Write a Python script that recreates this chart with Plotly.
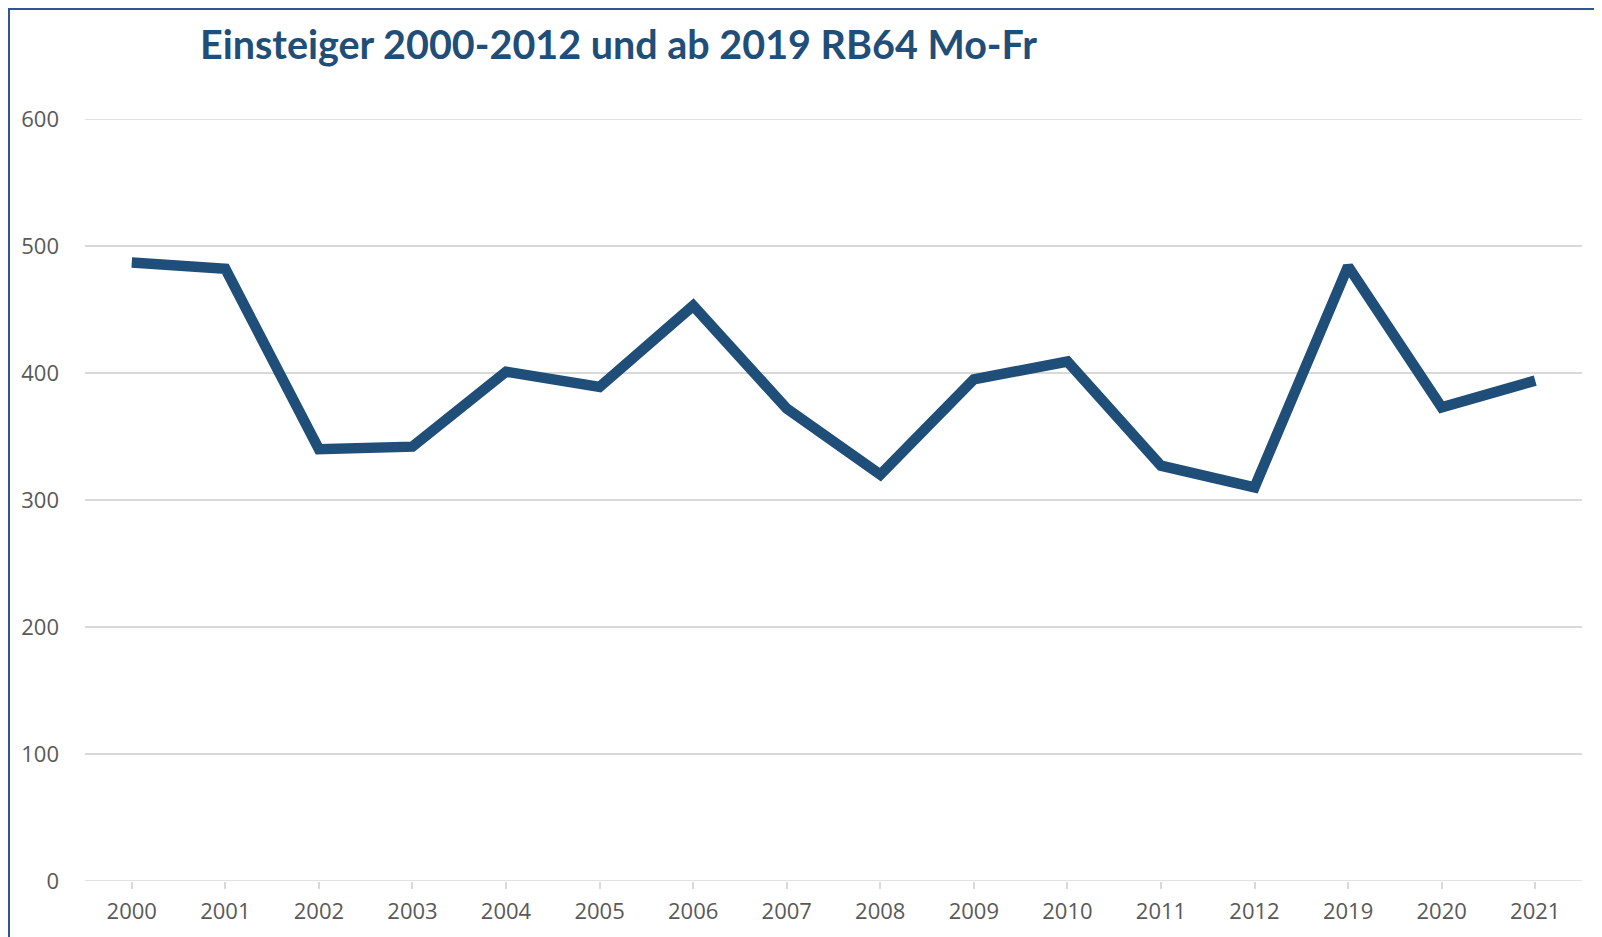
import plotly.graph_objects as go

jahre = ['2000', '2001', '2002', '2003', '2004', '2005', '2006', '2007',
         '2008', '2009', '2010', '2011', '2012', '2019', '2020', '2021']
einsteiger = [487, 482, 340, 342, 401, 389, 453, 372,
              320, 395, 409, 327, 310, 484, 373, 394]
y_ticks = [0, 100, 200, 300, 400, 500, 600]

blau = '#1F4E79'
grau = '#595959'
gitter = '#D9D9D9'

# die Seite hat 8px Rand, daher Figur etwas kleiner
W, H = 1594, 929
links, oben, breite, hoehe = 77, 111, 1497, 762

fig = go.Figure()

fig.add_trace(go.Scatter(
    x=jahre,
    y=einsteiger,
    mode='lines',
    line=dict(color=blau, width=10.5),
    hoverinfo='x+y',
))

# Gitterlinien am Rand (0 und 600) blendet plotly aus, daher als Shapes
rand_linien = [
    dict(type='line', xref='paper', yref='y', x0=0, x1=1, y0=v, y1=v,
         line=dict(color=gitter, width=1.5), layer='below')
    for v in (y_ticks[0], y_ticks[-1])
]

fig.update_layout(
    width=W,
    height=H,
    margin=dict(l=links, r=W - links - breite, t=oben, b=H - oben - hoehe),
    paper_bgcolor='white',
    plot_bgcolor='white',
    showlegend=False,
    font=dict(family='Open Sans', color=grau, size=22),
    title=dict(
        text='<b>Einsteiger 2000-2012 und ab 2019 RB64 Mo-Fr</b>',
        font=dict(family='Lato', size=39.5, color=blau),
        x=192 / W, xanchor='left', xref='container',
        y=1 - 37 / H, yanchor='middle', yref='container',
    ),
    xaxis=dict(
        type='category',
        range=[-0.5, 15.5],
        showgrid=False,
        showline=False,
        zeroline=False,
        ticks='outside',
        ticklen=7,
        tickcolor=gitter,
        tickwidth=1.5,
        ticklabelstandoff=4,
    ),
    yaxis=dict(
        range=[0, 600],
        tickvals=y_ticks,
        showgrid=True,
        gridcolor=gitter,
        gridwidth=1.5,
        zeroline=False,
        showline=False,
        ticks='',
        ticklabelstandoff=25,
    ),
    shapes=rand_linien + [
        dict(type='rect', xref='paper', yref='paper',
             x0=(1 - links) / breite, x1=1.2,
             y0=-0.3, y1=(oben + hoehe - 1) / hoehe,
             line=dict(color='#2F5597', width=2), layer='below'),
    ],
)

fig.write_html('out.html')
